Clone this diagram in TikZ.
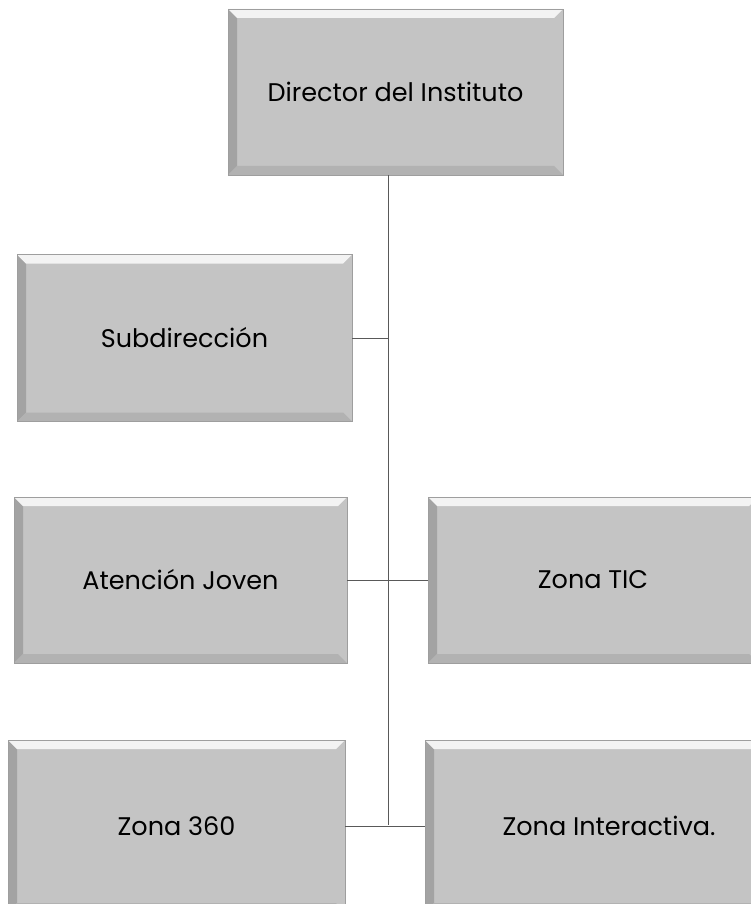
\documentclass[tikz,border=0pt]{standalone}
\usepackage{fontspec}
\setmainfont{Poppins}
\definecolor{boxfill}{gray}{0.77}
\definecolor{boxedge}{gray}{0.62}
\definecolor{bevelL}{gray}{0.64}
\definecolor{bevelB}{gray}{0.70}
\definecolor{linec}{gray}{0.35}
\tikzset{
  orgbox/.style={rectangle, fill=boxfill, draw=boxedge, line width=0.6pt,
    inner sep=0pt, font=\fontsize{25.5}{30}\selectfont,
    path picture={
      \fill[bevelL] (path picture bounding box.north west) -- ++(9pt,-9pt)
        -- ([shift={(9pt,9pt)}]path picture bounding box.south west)
        -- (path picture bounding box.south west) -- cycle;
      \fill[bevelB] (path picture bounding box.south west) -- ++(9pt,9pt)
        -- ([shift={(-9pt,9pt)}]path picture bounding box.south east)
        -- (path picture bounding box.south east) -- cycle;
      \fill[white!80!boxfill] (path picture bounding box.north west) -- ++(9pt,-9pt)
        -- ([shift={(-9pt,-9pt)}]path picture bounding box.north east)
        -- (path picture bounding box.north east) -- cycle;
    }},
  link/.style={draw=linec, line width=0.8pt}
}
\begin{document}
\begin{tikzpicture}[x=1pt,y=-1pt]
\useasboundingbox (0,0) rectangle (751,904);
\node[orgbox, minimum width=335pt, minimum height=166pt] (dir) at (395.5,92) {Director del Instituto};
\node[orgbox, minimum width=335pt, minimum height=167pt] (sub) at (184.5,338) {Subdirección};
\node[orgbox, minimum width=333pt, minimum height=166pt] (aj) at (180.5,580) {Atención Joven};
\node[orgbox, minimum width=330pt, minimum height=166pt] (tic) at (593,580) {Zona TIC};
\node[orgbox, minimum width=337pt, minimum height=172pt] (z360) at (176.5,826) {Zona 360};
\node[orgbox, minimum width=368pt, minimum height=172pt] (zi) at (609,826) {Zona Interactiva.};
\coordinate (top) at (388,175);
\coordinate (bot) at (388,825);
\draw[link] (top) -- (bot);
\draw[link] (sub.east) -- (sub.east -| top);
\draw[link] (aj.east) -- (tic.west);
\draw[link] (z360.east) -- (zi.west);
\end{tikzpicture}
\end{document}
